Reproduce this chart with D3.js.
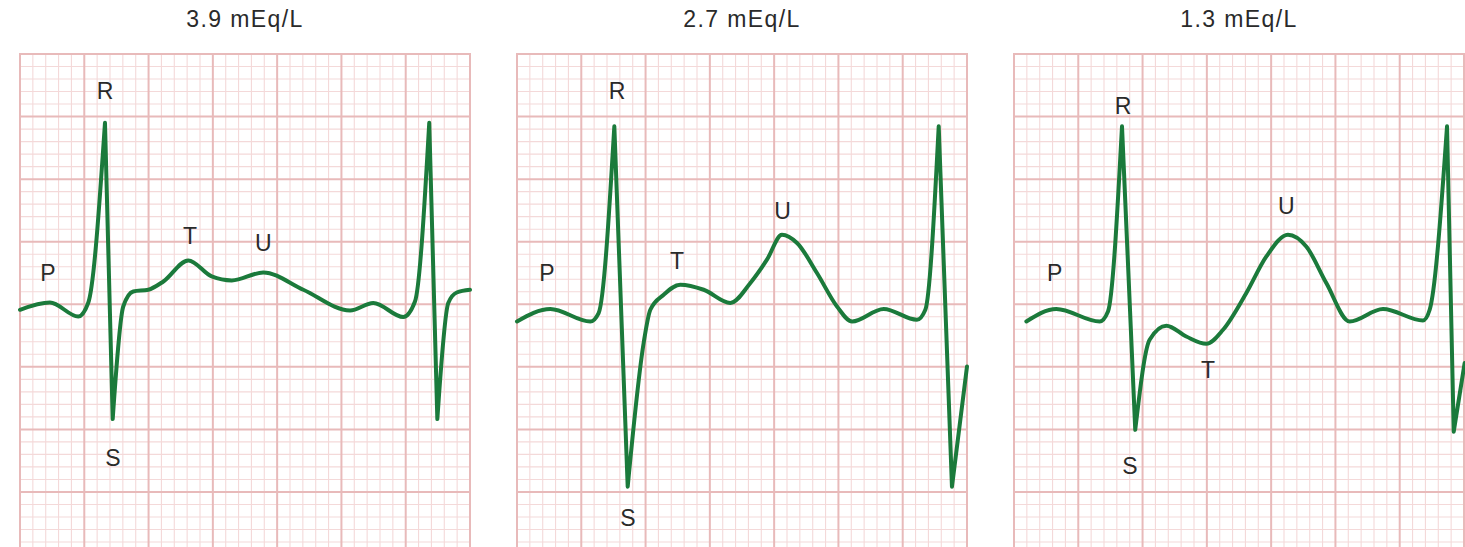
<!DOCTYPE html>
<html><head><meta charset="utf-8">
<script src="https://cdn.jsdelivr.net/npm/d3@7"></script>
<style>
html,body{margin:0;padding:0;background:#fff;}
svg{display:block;}
text{font-family:"Liberation Sans",Arial,Helvetica,sans-serif;fill:#2a2a2a;}
</style></head>
<body>
<svg id="chart" width="1465" height="547"></svg>
<script>
// ---- DATA (x in small boxes from panel's left edge, y in mm above baseline) ----
const titles = ["3.9 mEq/L", "2.7 mEq/L", "1.3 mEq/L"];

const p1X = [0, 2.33, 4.53, 5.31, 6.61, 7.21, 8.03, 8.81, 9.98, 11.15, 13.09, 14.91, 16.47, 18.92, 22.03, 25.67, 27.48, 29.81, 30.72, 31.83, 32.46, 33.31, 33.97, 35];
const p1Y = [-0.44, 0.14, -0.98, 0.12, 14.5, -9.18, -0.18, 1.02, 1.16, 1.82, 3.5, 2.22, 1.9, 2.54, 1.16, -0.5, 0.1, -1.02, 0.22, 14.5, -9.18, 0.1, 0.94, 1.16];

const p2X = [0, 2.59, 5.70, 6.35, 7.57, 8.61, 9.85, 10.37, 11.41, 12.70, 14.52, 16.59, 18.15, 19.44, 20.61, 21.78, 23.33, 24.89, 26.06, 28.52, 31.11, 31.76, 32.80, 33.83, 35.0];
const p2Y = [-1.38, -0.38, -1.38, -0.70, 14.22, -14.58, -3.10, -0.44, 0.76, 1.56, 1.16, 0.10, 1.70, 3.56, 5.56, 4.90, 2.50, -0.18, -1.38, -0.38, -1.24, -0.44, 14.22, -14.58, -4.98];

const p3X = [0.96, 3.29, 6.67, 7.31, 8.40, 9.43, 10.55, 11.85, 13.40, 14.96, 16.26, 18.07, 19.63, 21.31, 22.73, 24.29, 26.11, 28.70, 31.81, 32.33, 33.68, 34.20, 35.05];
const p3Y = [-1.38, -0.38, -1.38, -0.58, 14.22, -10.04, -2.84, -1.72, -2.58, -3.16, -2.04, 0.90, 3.82, 5.56, 4.62, 1.70, -1.38, -0.38, -1.30, -0.44, 14.22, -10.18, -4.70];

const waveNames = ["P", "R", "S", "T", "U"];
const p1LabelX = [2.18, 6.61, 7.23, 13.22, 18.92];
const p1LabelY = [2.52, 17.08, -12.28, 5.48, 4.9];
const p2LabelX = [2.33, 7.78, 8.63, 12.44, 20.66];
const p2LabelY = [2.5, 17.08, -17.08, 3.42, 7.42];
const p3LabelX = [3.17, 8.48, 9.02, 15.09, 21.18];
const p3LabelY = [2.5, 15.88, -12.92, -5.24, 7.82];

// ---- LAYOUT ----
const W = 1465, H = 547;
const panelLeft = [20, 517, 1014];
const panelW = 450;
const gridTop = 54, gridBottom = 554.5;
const boxesX = 35, mmTop = 20, mmBottom = -20;

const svg = d3.select("#chart");
const panels = [
  {x: p1X, y: p1Y, lx: p1LabelX, ly: p1LabelY},
  {x: p2X, y: p2Y, lx: p2LabelX, ly: p2LabelY},
  {x: p3X, y: p3Y, lx: p3LabelX, ly: p3LabelY}
];

const yScale = d3.scaleLinear().domain([mmTop, mmBottom]).range([gridTop, gridBottom]);

panels.forEach((p, i) => {
  const x0 = panelLeft[i];
  const xScale = d3.scaleLinear().domain([0, boxesX]).range([x0, x0 + panelW]);
  const g = svg.append("g");

  const vt = d3.range(0, boxesX + 0.001, 1);
  const ht = d3.range(mmBottom, mmTop + 0.001, 1);
  // minor grid
  g.selectAll(".vmin").data(vt.filter(v => v % 5 !== 0)).join("line")
    .attr("x1", d => xScale(d)).attr("x2", d => xScale(d))
    .attr("y1", gridTop).attr("y2", H)
    .attr("stroke", "#f4d9d9").attr("stroke-width", 1.1);
  g.selectAll(".hmin").data(ht.filter(v => Math.abs(v) % 5 !== 0)).join("line")
    .attr("y1", d => yScale(d)).attr("y2", d => yScale(d))
    .attr("x1", x0).attr("x2", x0 + panelW)
    .attr("stroke", "#f4d9d9").attr("stroke-width", 1.1);
  // major grid
  g.selectAll(".vmaj").data(vt.filter(v => v % 5 === 0)).join("line")
    .attr("x1", d => xScale(d)).attr("x2", d => xScale(d))
    .attr("y1", gridTop - 1).attr("y2", H)
    .attr("stroke", "#e8baba").attr("stroke-width", 2);
  g.selectAll(".hmaj").data(ht.filter(v => Math.abs(v) % 5 === 0)).join("line")
    .attr("y1", d => yScale(d)).attr("y2", d => yScale(d))
    .attr("x1", x0 - 1).attr("x2", x0 + panelW + 1)
    .attr("stroke", "#e8baba").attr("stroke-width", 2);

  // trace: smooth runs joined at sharp R/S spikes
  const pts = p.x.map((v, k) => [v, p.y[k]]);
  const isCorner = k => {
    if (k === 0 || k === pts.length - 1) return false;
    const a = pts[k - 1][1] - pts[k][1], b = pts[k + 1][1] - pts[k][1];
    return (a > 4 && b > 4) || (a < -4 && b < -4);
  };
  const runs = [];
  let cur = [pts[0]];
  for (let k = 1; k < pts.length; k++) {
    cur.push(pts[k]);
    if (isCorner(k)) { runs.push(cur); cur = [pts[k]]; }
  }
  if (cur.length > 1) runs.push(cur);
  const line = d3.line().x(d => xScale(d[0])).y(d => yScale(d[1]))
    .curve(d3.curveMonotoneX);
  const dStr = runs.map((r, k) => {
    const s = line(r);
    return k === 0 ? s : s.replace(/^M/, "L");
  }).join("");
  g.append("path").attr("d", dStr)
    .attr("fill", "none").attr("stroke", "#1b7a3b")
    .attr("stroke-width", 4).attr("stroke-linejoin", "round")
    .attr("stroke-linecap", "round");

  // wave labels
  g.selectAll(".lab").data(waveNames).join("text")
    .attr("x", (d, k) => xScale(p.lx[k]))
    .attr("y", (d, k) => yScale(p.ly[k]))
    .attr("text-anchor", "middle").attr("dominant-baseline", "central")
    .attr("font-size", 23).text(d => d);

  // title
  svg.append("text").attr("x", x0 + panelW / 2).attr("y", 19)
    .attr("text-anchor", "middle").attr("dominant-baseline", "central")
    .attr("font-size", 23).attr("letter-spacing", 1.4)
    .text(titles[i]);
});
</script>
</body></html>
